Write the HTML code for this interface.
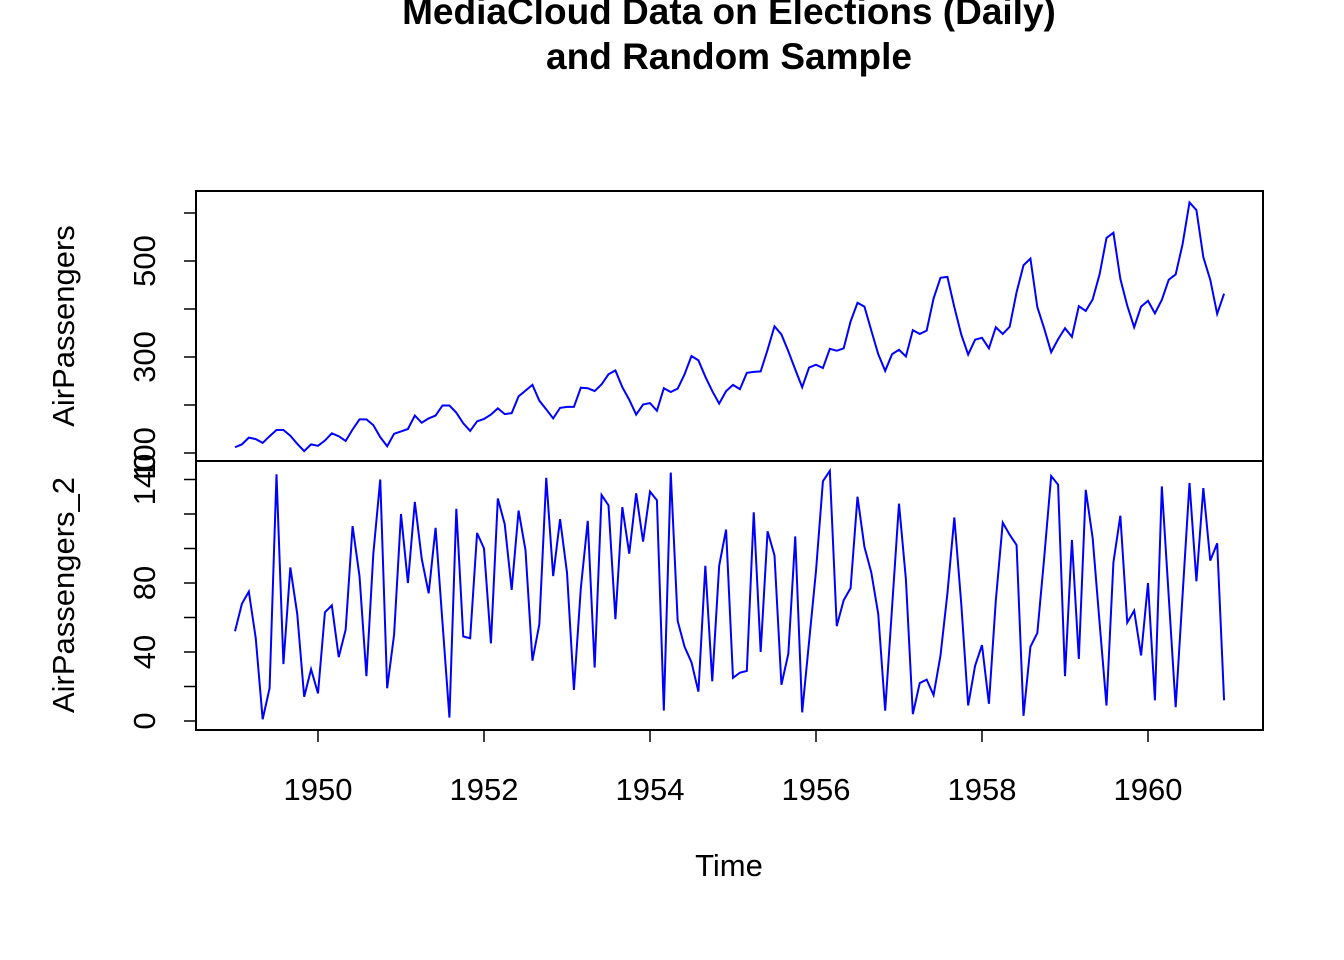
<!DOCTYPE html>
<html><head><meta charset="utf-8"><style>
html,body{margin:0;padding:0;background:#fff;}
svg{display:block;font-family:"Liberation Sans",Arial,sans-serif;}
</style></head><body>
<svg id="chart" width="1344" height="960" viewBox="0 0 1344 960" xmlns="http://www.w3.org/2000/svg">
<text x="729" y="24" text-anchor="middle" font-size="37" font-weight="bold">MediaCloud Data on Elections (Daily)</text>
<text x="729" y="69" text-anchor="middle" font-size="37" font-weight="bold">and Random Sample</text>
<rect x="196" y="191" width="1067" height="270" fill="none" stroke="#000" stroke-width="2"/>
<rect x="196" y="461" width="1067" height="269" fill="none" stroke="#000" stroke-width="2"/>
<g id="axes"></g>
<polyline id="line1" fill="none" stroke="#0000ff" stroke-width="2"/>
<polyline id="line2" fill="none" stroke="#0000ff" stroke-width="2"/>
<text x="729" y="876" text-anchor="middle" font-size="31">Time</text>
<text transform="translate(74,326) rotate(-90)" text-anchor="middle" font-size="31">AirPassengers</text>
<text transform="translate(74,595) rotate(-90)" text-anchor="middle" font-size="31">AirPassengers_2</text>
</svg>
<script>
const startYear = 1949;
const airPassengers = [112,118,132,129,121,135,148,148,136,119,104,118,
115,126,141,135,125,149,170,170,158,133,114,140,
145,150,178,163,172,178,199,199,184,162,146,166,
171,180,193,181,183,218,230,242,209,191,172,194,
196,196,236,235,229,243,264,272,237,211,180,201,
204,188,235,227,234,264,302,293,259,229,203,229,
242,233,267,269,270,315,364,347,312,274,237,278,
284,277,317,313,318,374,413,405,355,306,271,306,
315,301,356,348,355,422,465,467,404,347,305,336,
340,318,362,348,363,435,491,505,404,359,310,337,
360,342,406,396,420,472,548,559,463,407,362,405,
417,391,419,461,472,535,622,606,508,461,390,432];
const airPassengers2 = [52,68,75,48,1,19,143,33,89,62,14,30,
16,63,67,37,53,113,84,26,97,140,19,50,
120,80,127,94,74,112,57,2,123,49,48,109,
100,45,129,114,76,122,99,35,56,141,84,117,
86,18,77,116,31,131,125,59,124,97,132,104,
133,128,6,144,58,43,34,17,90,23,90,111,
25,28,29,121,40,110,96,21,39,107,5,46,
87,139,145,55,70,77,130,101,86,62,6,66,
126,82,4,22,24,15,38,74,118,68,9,32,
44,10,70,115,108,102,3,43,51,95,142,137,
26,105,36,134,106,57,9,92,119,57,64,38,
80,12,136,72,8,73,138,81,135,93,103,12];
const xTicks = [1950,1952,1954,1956,1958,1960];
const topTicks = [100,200,300,400,500,600];
const topLabels = ["100","","300","","500",""];
const botTicks = [0,20,40,60,80,100,120,140];
const botLabels = ["0","","40","","80","","","140"];

const xs = t => 318 + (t - 1950) * 83;
const yTop = v => 453 - (v - 100) * 0.48;
const yBot = v => 721 - v * 1.725;
const NS = "http://www.w3.org/2000/svg";
const axes = document.getElementById('axes');
function mk(tag, attrs){const e=document.createElementNS(NS,tag);for(const k in attrs)e.setAttribute(k,attrs[k]);axes.appendChild(e);return e;}

document.getElementById('line1').setAttribute('points', airPassengers.map((v,i)=>xs(startYear+i/12).toFixed(2)+','+yTop(v).toFixed(2)).join(' '));
document.getElementById('line2').setAttribute('points', airPassengers2.map((v,i)=>xs(startYear+i/12).toFixed(2)+','+yBot(v).toFixed(2)).join(' '));

let ax = mk('line',{x1:xs(xTicks[0]),x2:xs(xTicks[xTicks.length-1]),y1:730,y2:730,stroke:'#000','stroke-width':1.5});


xTicks.forEach(t=>{
  const l=mk('line',{x1:xs(t),x2:xs(t),y1:730,y2:742,stroke:'#000','stroke-width':1.5});
  
  
  const tx=mk('text',{x:xs(t),y:800,'text-anchor':'middle','font-size':31});
  tx.textContent=t;
  
  
});
topTicks.forEach((t,i)=>{
  const l=mk('line',{x1:184,x2:196,y1:yTop(t),y2:yTop(t),stroke:'#000','stroke-width':1.5});
  
  
  if(topLabels[i]){
    const tx=mk('text',{transform:`translate(155,${yTop(t)}) rotate(-90)`,'text-anchor':'middle','font-size':31});
    tx.textContent=topLabels[i];
    
    
  }
});
botTicks.forEach((t,i)=>{
  const l=mk('line',{x1:184,x2:196,y1:yBot(t),y2:yBot(t),stroke:'#000','stroke-width':1.5});
  
  
  if(botLabels[i]){
    const tx=mk('text',{transform:`translate(155,${yBot(t)}) rotate(-90)`,'text-anchor':'middle','font-size':31});
    tx.textContent=botLabels[i];
    
    
  }
});
</script>
</body></html>
